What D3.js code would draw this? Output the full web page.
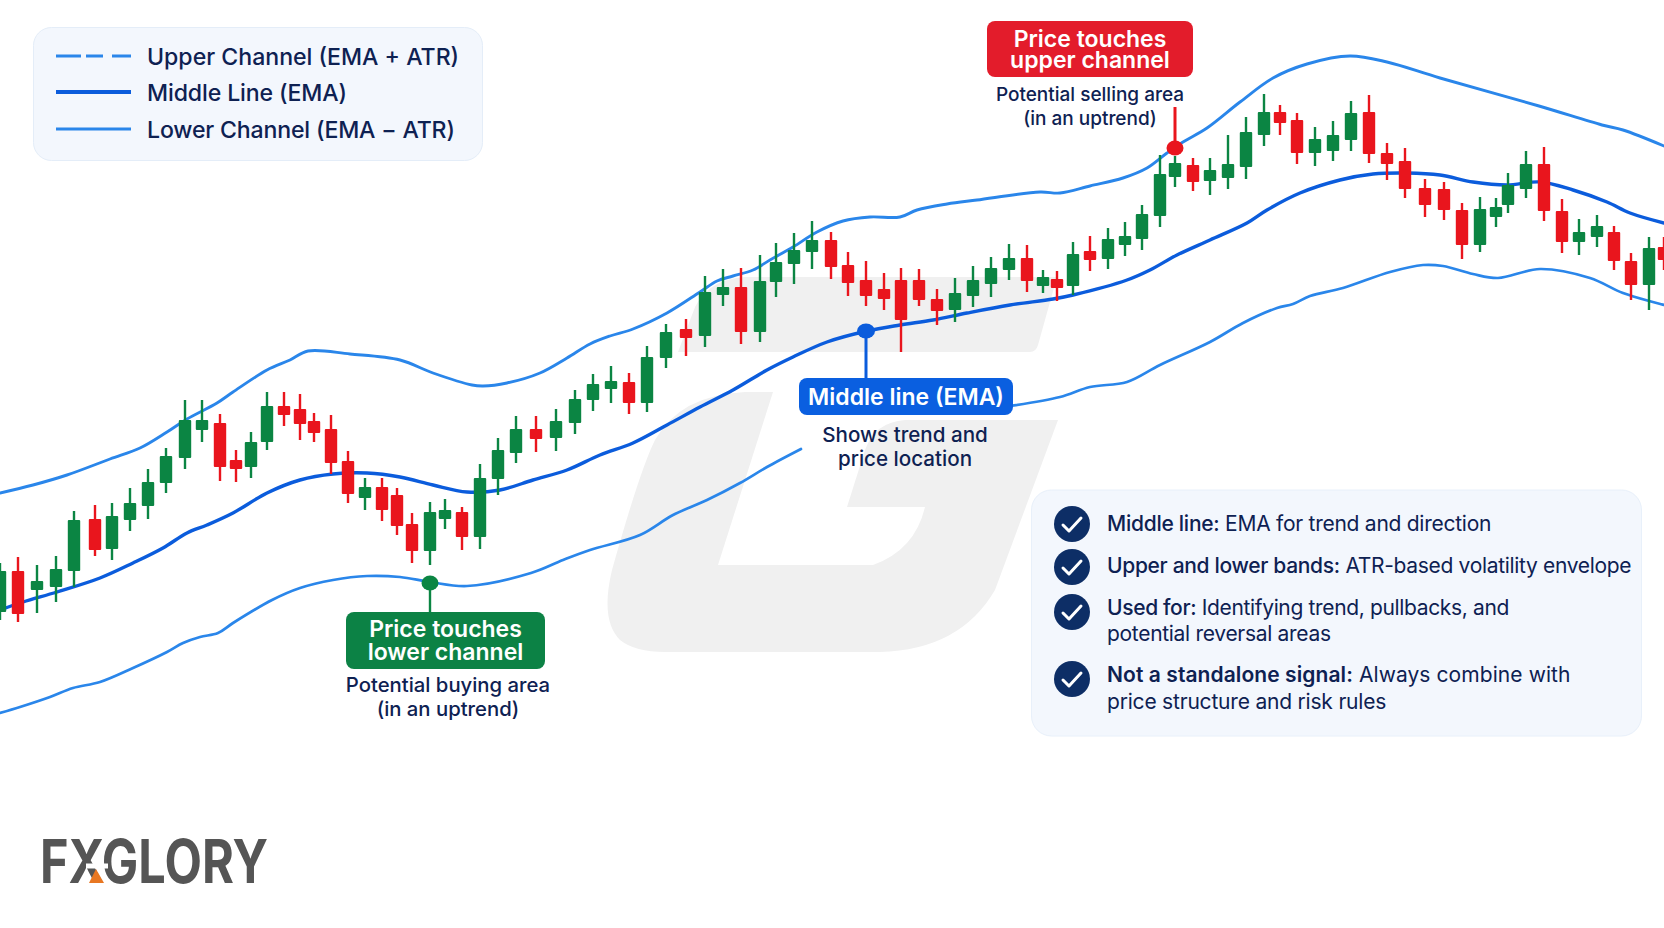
<!DOCTYPE html>
<html><head><meta charset="utf-8">
<script src="https://cdn.jsdelivr.net/npm/d3@7/dist/d3.min.js"></script>
<style>html,body{margin:0;padding:0;background:#fff;overflow:hidden}svg{display:block}text{font-family:Inter,"Noto Sans",sans-serif}</style>
</head><body><svg id="c" width="1664" height="928"></svg>
<script>
// Candle data: session time and price (points)
const times=[0,18,37,56,74,95,112,130,148,166,185,202,220,236,251,267,284,300,314,331,348,365,382,397,412,430,445,462,480,498,516,536,556,575,593,611,629,647,666,686,705,723,741,760,776,794,812,831,848,866,884,901,919,937,955,973,991,1009,1027,1043,1057,1073,1090,1108,1125,1142,1160,1175,1193,1210,1228,1246,1264,1280,1297,1315,1333,1351,1369,1387,1405,1425,1444,1462,1480,1496,1508,1526,1544,1562,1579,1597,1614,1631,1649,1664];
const opens=[388,429,410,413,429,481,451,480,494,517,542,570,577,540,533,558,594,591,579,571,539,502,513,505,476,449,481,488,463,521,547,571,562,577,600,611,618,597,642,671,664,705,713,668,718,736,748,760,735,720,711,720,720,701,690,704,716,730,742,714,721,714,749,741,755,761,784,823,835,819,822,833,865,888,880,847,849,860,888,847,839,812,811,790,755,783,795,811,836,789,758,763,768,739,715,753];
const highs=[437,443,435,444,489,495,497,512,531,552,600,600,586,550,568,608,608,606,587,585,549,522,522,512,487,498,501,493,536,562,584,584,591,610,626,634,627,654,676,681,724,731,732,745,757,767,779,768,748,739,727,732,731,711,722,734,743,756,755,730,729,758,764,772,778,795,845,844,842,842,865,883,906,895,887,873,879,899,905,857,852,821,818,797,803,802,827,849,853,801,781,785,774,747,763,763];
const lows=[380,378,387,398,413,444,440,469,481,507,531,558,519,518,522,550,574,560,558,526,497,490,479,465,437,435,471,450,451,505,537,548,549,566,589,597,586,588,632,644,653,694,656,658,703,716,731,721,704,694,690,648,694,675,678,693,703,720,708,707,699,705,729,731,744,750,773,813,809,805,811,821,854,865,836,834,839,849,837,820,802,783,780,741,748,773,787,802,779,747,745,753,730,700,690,730];
const closes=[429,386,419,431,480,450,484,497,518,544,580,580,533,531,558,594,585,576,567,537,506,513,490,474,449,488,490,463,522,550,571,561,579,601,616,619,597,643,668,662,708,713,668,719,738,750,760,733,717,704,701,680,700,689,707,720,732,742,719,723,712,746,740,761,764,786,826,837,818,830,836,868,888,877,847,861,865,887,846,836,811,795,790,755,791,793,815,836,789,758,768,774,739,715,752,740];
// Channel series
const upperTimes=[0,33,67,110,140,167,187,217,233,267,290,308,350,400,433,472,483,507,540,567,590,610,633,667,700,717,733,753,770,793,817,843,870,900,917,947,977,1040,1060,1090,1123,1147,1167,1183,1207,1240,1273,1307,1350,1387,1440,1539,1602,1623,1664];
const upperLevels=[507,515,525,541,552,568,581,597,608,630,640,649,646,640,627,615,614,617,627,642,656,664,671,687,708,719,724,730,740,753,768,779,783,783,790,796,800,808,807,814,822,832,847,858,872,898,922,936,944,938,922,894,875,870,854];
const middleTimes=[0,23,57,100,133,163,187,207,233,267,300,333,367,400,433,467,500,533,567,600,633,667,700,733,767,793,827,867,900,933,967,1010,1053,1073,1127,1150,1177,1210,1247,1267,1300,1340,1373,1407,1440,1473,1507,1540,1573,1607,1630,1664];
const middleLevels=[390,398,408,422,437,452,467,475,487,507,520,526,527,523,515,508,510,520,530,545,557,575,593,610,630,643,658,669,675,680,687,695,701,705,720,730,745,760,777,790,807,820,826,827,825,818,815,818,810,798,787,777];
const lowerTimes=[0,20,50,73,100,133,167,183,200,218,233,272,300,333,367,400,430,467,531,563,590,640,673,707,740,767,801,900,1010,1060,1090,1127,1160,1210,1243,1277,1293,1310,1343,1390,1423,1443,1473,1498,1540,1590,1623,1664];
const lowerLevels=[287,293,303,312,318,332,348,357,363,367,377,400,412,420,424,423,418,414,427,440,450,465,485,500,517,533,551,null,594,603,613,618,635,658,677,692,696,704,712,728,735,734,726,722,731,722,707,695];
// Text
const legendLabels=["Upper Channel (EMA + ATR)","Middle Line (EMA)","Lower Channel (EMA \u2212 ATR)"];
const infoLeads=["Middle line:","Upper and lower bands:","Used for:","Not a standalone signal:"];
const infoRests=["EMA for trend and direction","ATR-based volatility envelope","Identifying trend, pullbacks, and","Always combine with"];
const infoSeconds=["","","potential reversal areas","price structure and risk rules"];

const GREEN="#0b8543",RED="#e9151d",BLUE="#0b5cdc",LIGHT="#2a86ea",NAVY="#0e2152";
const svg=d3.select("#c");
const x=d3.scaleLinear().domain([0,1664]).range([0,1664]);
const y=d3.scaleLinear().domain([72,1000]).range([928,0]);

// watermark
const wm=svg.append("g").attr("fill","#f0f0f0");
wm.append("path").attr("d","M678,352 L1030,352 Q1036,352 1038,345 L1057,277 L745,277 Q703,280 692,315 Z");
wm.append("path").attr("d","M773,392 L745,392 Q680,395 655,440 Q640,470 612,570 Q600,620 620,640 Q635,652 665,652 L880,652 Q960,650 995,590 L1058,420 L905,420 Q875,422 865,450 L847,507 L925,507 Q915,550 873,565 L718,565 Z");

// channel lines
function drawLine(ts,vs,color,w){
  const pts=ts.map((t,i)=>[t,vs[i]]);
  svg.append("path").datum(pts).attr("fill","none").attr("stroke",color).attr("stroke-width",w)
    .attr("stroke-linejoin","round").attr("stroke-linecap","round")
    .attr("d",d3.line().defined(d=>d[1]!==null).x(d=>x(d[0])).y(d=>y(d[1])).curve(d3.curveCatmullRom.alpha(0.5)));
}
drawLine(upperTimes,upperLevels,LIGHT,2.9);
drawLine(lowerTimes,lowerLevels,LIGHT,2.7);
drawLine(middleTimes,middleLevels,BLUE,3.4);

const candles=times.map((t,i)=>({t,o:opens[i],h:highs[i],l:lows[i],c:closes[i]}));
const g=svg.append("g").selectAll("g").data(candles).join("g").attr("fill",d=>d.c>=d.o?GREEN:RED).attr("stroke",d=>d.c>=d.o?GREEN:RED);
g.append("line").attr("x1",d=>x(d.t)).attr("x2",d=>x(d.t)).attr("y1",d=>y(d.h)).attr("y2",d=>y(d.l)).attr("stroke-width",2.4);
g.append("rect").attr("stroke","none").attr("x",d=>x(d.t)-6.2).attr("width",12.4).attr("rx",1)
  .attr("y",d=>y(Math.max(d.o,d.c))).attr("height",d=>y(Math.min(d.o,d.c))-y(Math.max(d.o,d.c)));

// callouts
function callout(o){
  svg.append("line").attr("x1",x(o.t)).attr("x2",x(o.t)).attr("y1",y(o.level)).attr("y2",o.y2).attr("stroke",o.color).attr("stroke-width",o.sw);
  svg.append("ellipse").attr("cx",x(o.t)).attr("cy",y(o.level)).attr("rx",o.rx).attr("ry",o.ry).attr("fill",o.color);
  svg.append("rect").attr("x",o.bx).attr("y",o.by).attr("width",o.bw).attr("height",o.bh).attr("rx",8).attr("fill",o.box);
  const h=svg.append("text").attr("text-anchor","middle").attr("fill","#fff").attr("font-size",23).attr("font-weight",600);
  o.head.forEach((s,i)=>h.append("tspan").attr("x",o.bx+o.bw/2).attr("y",o.hy[i]).text(s));
  const t=svg.append("text").attr("text-anchor","middle").attr("fill",NAVY).attr("font-size",o.fs).attr("font-weight",500);
  o.sub.forEach((s,i)=>t.append("tspan").attr("x",o.sx).attr("y",o.sy[i]).text(s));
}
callout({t:1175,level:852,y2:107,color:RED,box:"#e31c2b",sw:3,rx:8.5,ry:7.5,bx:987,by:21,bw:206,bh:56,head:["Price touches","upper channel"],hy:[47,68],sub:["Potential selling area","(in an uptrend)"],sx:1090,sy:[101,125],fs:19});
callout({t:430,level:417,y2:612,color:GREEN,box:"#0c8245",sw:2.4,rx:8.5,ry:7.5,bx:346,by:612,bw:199,bh:57,head:["Price touches","lower channel"],hy:[637,660],sub:["Potential buying area","(in an uptrend)"],sx:448,sy:[692,716],fs:20.3});
callout({t:866,level:669,y2:380,color:BLUE,box:"#0a5fe0",sw:3,rx:9,ry:7.5,bx:799,by:378,bw:214,bh:37,head:["Middle line (EMA)"],hy:[405],sub:["Shows trend and","price location"],sx:905,sy:[442,466],fs:20.6});

// legend
svg.append("rect").attr("x",33.5).attr("y",27.5).attr("width",449).attr("height",133).attr("rx",18).attr("fill","#f3f7fd").attr("stroke","#e4edf8");
const legY=[56,92,129], legC=[LIGHT,BLUE,LIGHT], legW=[3,4,3], legD=["25 5 17 9 19",null,null], legS=[0,-0.12,-0.17];
legendLabels.forEach((s,i)=>{
  svg.append("line").attr("x1",56).attr("x2",131).attr("y1",legY[i]).attr("y2",legY[i]).attr("stroke",legC[i]).attr("stroke-width",legW[i]).attr("stroke-dasharray",legD[i]);
  svg.append("text").attr("x",147).attr("y",legY[i]+9).attr("fill",NAVY).attr("font-size",23.1).attr("font-weight",500).attr("letter-spacing",legS[i]).text(s);
});

// info panel
svg.append("rect").attr("x",1031.5).attr("y",490).attr("width",610).attr("height",246).attr("rx",20).attr("fill","#f3f7fd").attr("stroke","#e8f0fa");
const cy=[524,567,612,679], l1=[531,573,615,682], l2=[null,null,641,709], leadW=[500,500,500,600];
const s1=[-0.26,-0.32,-0.35,0.08], s2=[0,0,-0.3,-0.2];
infoLeads.forEach((s,i)=>{
  svg.append("circle").attr("cx",1072).attr("cy",cy[i]).attr("r",18).attr("fill","#0d2e66");
  svg.append("path").attr("d",`M1063,${cy[i]+1} L1069,${cy[i]+7} L1081,${cy[i]-6}`).attr("fill","none").attr("stroke","#fff").attr("stroke-width",3).attr("stroke-linecap","round").attr("stroke-linejoin","round");
  const t=svg.append("text").attr("x",1107).attr("y",l1[i]).attr("fill",NAVY).attr("font-size",21).attr("font-weight",400).attr("letter-spacing",s1[i]);
  t.append("tspan").attr("font-weight",leadW[i]).text(s);
  t.append("tspan").text(" "+infoRests[i]);
  if(infoSeconds[i]) svg.append("text").attr("x",1107).attr("y",l2[i]).attr("fill",NAVY).attr("font-size",21).attr("font-weight",400).attr("letter-spacing",s2[i]).text(infoSeconds[i]);
});

// logo
svg.append("text").attr("x",40).attr("y",883).attr("font-size",60).attr("font-weight",700).attr("fill","#555").attr("textLength",228).attr("lengthAdjust","spacingAndGlyphs").style("font-family","Inter").text("FXGLORY");
svg.append("path").attr("d","M86,866 L108,866").attr("stroke","#fff").attr("stroke-width",5);
svg.append("path").attr("d","M96,869 L104,883 L89,883 Z").attr("fill","#e87722");
</script></body></html>
